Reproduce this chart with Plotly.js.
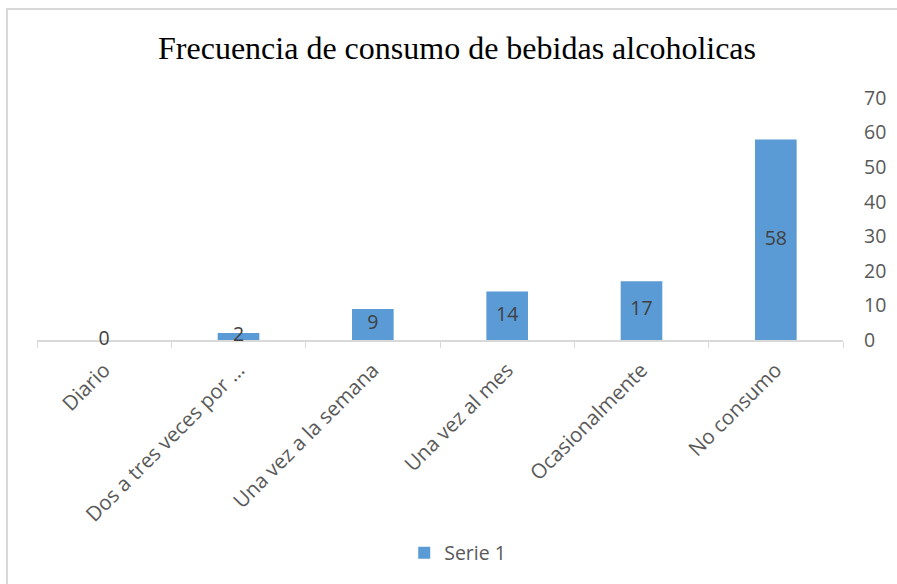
<!DOCTYPE html>
<html>
<head>
<meta charset="utf-8">
<script src="https://cdn.plot.ly/plotly-3.0.1.min.js"></script>
<style>
  body { margin: 0; background: #fff; }
  #chart { width: 897px; height: 584px; position: absolute; left: 0; top: 0; }
  #frame { position: absolute; left: 6px; top: 8px; width: 900px; height: 600px;
           border-left: 2px solid #d9d9d9; border-top: 2px solid #d9d9d9; pointer-events: none; }
</style>
</head>
<body>
<div id="chart"></div>
<div id="frame"></div>
<script>
const categories = ["Diario", "Dos a tres veces por …", "Una vez a la semana", "Una vez al mes", "Ocasionalmente", "No consumo"];
const values = [0, 2, 9, 14, 17, 58];
const seriesName = "Serie 1";
const yTicks = [0, 10, 20, 30, 40, 50, 60, 70];
const titleText = "Frecuencia de consumo de bebidas alcoholicas";

const barColor = "#5B9BD5";
const fontFam = "Open Sans, Liberation Sans, sans-serif";

const bars = {
  type: "bar",
  x: categories,
  y: values,
  name: seriesName,
  marker: { color: barColor },
  width: 0.31,
  hoverinfo: "x+y"
};

const labels = {
  type: "scatter",
  mode: "text",
  x: categories,
  y: values.map(v => v / 2),
  text: values.map(String),
  textposition: "middle center",
  textfont: { family: fontFam, size: 19.5, color: "#404040" },
  cliponaxis: false,
  showlegend: false,
  hoverinfo: "skip"
};

const layout = {
  width: 897,
  height: 584,
  paper_bgcolor: "#ffffff",
  plot_bgcolor: "#ffffff",
  margin: { l: 37, r: 54, t: 98, b: 244 },
  title: {
    text: titleText,
    font: { family: "Liberation Serif, Times New Roman, serif", size: 32, color: "#000000" },
    x: 0.5095, xref: "container", xanchor: "center",
    y: 1 - 48 / 584, yref: "container", yanchor: "middle"
  },
  xaxis: {
    type: "category",
    tickangle: -45,
    tickson: "boundaries",
    ticks: "outside",
    ticklen: 6,
    tickcolor: "#d9d9d9",
    showline: true,
    linecolor: "#d9d9d9",
    linewidth: 2,
    layer: "below traces",
    showgrid: false,
    zeroline: false,
    ticklabelstandoff: 8,
    tickfont: { family: fontFam, size: 20.5, color: "#595959" },
    fixedrange: true
  },
  yaxis: {
    side: "right",
    range: [0, 70],
    tickvals: yTicks,
    ticktext: yTicks.map(String),
    showline: false,
    showgrid: false,
    zeroline: false,
    ticks: "",
    ticklabelstandoff: 20,
    tickfont: { family: fontFam, size: 19.5, color: "#595959" },
    fixedrange: true
  },
  showlegend: true,
  legend: {
    orientation: "h",
    x: 0.522, xanchor: "center",
    y: -0.88, yanchor: "middle",
    font: { family: fontFam, size: 19.5, color: "#595959" },
    bgcolor: "rgba(0,0,0,0)"
  },
  bargap: 0.69
};

Plotly.newPlot("chart", [bars, labels], layout, { displayModeBar: false, staticPlot: true });
</script>
</body>
</html>
